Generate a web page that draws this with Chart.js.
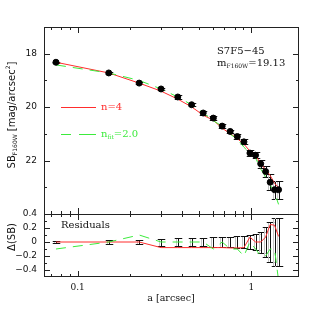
<!DOCTYPE html>
<html>
<head>
<meta charset="utf-8">
<script src="https://cdn.jsdelivr.net/npm/chart.js@4.4.1/dist/chart.umd.min.js"></script>
<style>html,body{margin:0;padding:0;background:#fff}</style>
</head>
<body>
<canvas id="myChart" width="316" height="316"></canvas>
<script>
// semi-major axis [arcsec]
const radius = [0.075,0.151,0.226,0.302,0.377,0.453,0.528,0.604,0.679,0.755,0.830,0.906,0.981,1.057,1.132,1.208,1.283,1.359,1.434];
// observed surface brightness
const sb = [18.32,18.72,19.10,19.32,19.62,19.91,20.22,20.41,20.71,20.91,21.10,21.30,21.72,21.80,22.12,22.41,22.81,23.09,23.09];
const sbErr = [0.015,0.03,0.035,0.05,0.06,0.06,0.06,0.07,0.07,0.07,0.09,0.09,0.10,0.12,0.15,0.21,0.29,0.34,0.34];
// models
const modelN4  = [18.32,18.72,19.10,19.40,19.70,19.99,20.30,20.49,20.79,20.99,21.18,21.38,21.65,21.80,22.12,22.34,22.56,22.85,23.01];
const modelFit = [18.42,18.72,19.00,19.32,19.62,19.91,20.22,20.51,20.71,21.01,21.20,21.50,21.72,21.90,22.32,22.61,22.91,23.19,23.64];
// residuals
const residN4  = [0,0,0,-0.08,-0.08,-0.08,-0.08,-0.08,-0.08,-0.085,-0.085,-0.08,0.07,0,0,0.07,0.25,0.24,0.08];
const residFit = [-0.1,0,0.1,0,0,0,0,-0.1,0,-0.1,-0.1,-0.2,0,-0.1,-0.2,-0.2,-0.1,-0.1,-0.55];
// tick labels
const xTicks = [0.1, 1];
const yTicks = [18, 20, 22];
const rTicks = [0.4, 0.2, 0, -0.2, -0.4];

const RED = 'rgb(255,45,45)';
const GREEN = 'rgb(60,235,60)';
const SERIF = 'DejaVu Serif';
const SANS = 'DejaVu Sans';

function pts(xs, ys){ return xs.map((x,i)=>({x:x, y:ys[i]})); }

// text with sub/superscripts: parts = [[text, 'n'|'sub'|'sup'], ...]
function setFont(c, p, size, fam){
  c.font = (p[1]==='n' ? size : Math.round(size*0.62)) + 'px "' + fam + '"';
}
function richWidth(c, parts, size, fam){
  let w = 0;
  parts.forEach(p=>{ setFont(c, p, size, fam); w += c.measureText(p[0]).width; });
  return w;
}
function drawRich(c, parts, x, y, size, fam){
  c.textBaseline = 'middle';
  c.textAlign = 'left';
  parts.forEach(p=>{
    let dy = 0;
    if (p[1]==='sub') dy = size*0.35;
    if (p[1]==='sup') dy = -size*0.35;
    setFont(c, p, size, fam);
    c.fillText(p[0], x, y+dy);
    x += c.measureText(p[0]).width;
  });
}

const decor = {
  id: 'decor',
  beforeDatasetsDraw(chart){
    const c = chart.ctx, xs = chart.scales.x, ys = chart.scales.y, yr = chart.scales.yr;
    c.save();
    radius.forEach((r,i)=>{
      const px = Math.round(xs.getPixelForValue(r));
      [[ys, sb[i]], [yr, 0]].forEach(([s, v])=>{
        const y1 = Math.round(s.getPixelForValue(v - sbErr[i]));
        const y2 = Math.round(s.getPixelForValue(v + sbErr[i]));
        const top = Math.min(y1,y2), h = Math.abs(y2-y1);
        c.fillStyle = '#c4c4c4';
        c.fillRect(px-2, top, 1, h);
        c.fillRect(px-4, y1, 9, 1);
        c.fillRect(px-4, y2, 9, 1);
        c.fillStyle = '#111';
        c.fillRect(px, top, 1, h);
        c.fillRect(px-3, y1, 7, 1);
        c.fillRect(px-3, y2, 7, 1);
      });
    });
    c.restore();
  },
  afterDraw(chart){
    const c = chart.ctx;
    const xs = chart.scales.x, ys = chart.scales.y, yr = chart.scales.yr;
    const L = Math.round(xs.left), R = Math.round(xs.right), T = Math.round(ys.top);
    const B = Math.round(yr.bottom), mid = Math.round(ys.bottom);
    c.save();
    c.fillStyle = '#222';
    // frame and divider
    c.fillRect(L, T, R-L, 1);
    c.fillRect(L, B-1, R-L, 1);
    c.fillRect(L, T, 1, B-T);
    c.fillRect(R-1, T, 1, B-T);
    c.fillRect(L, mid, R-L, 1);
    // x ticks
    const xv = [0.07,0.08,0.09,0.1,0.2,0.3,0.4,0.5,0.6,0.7,0.8,0.9,1];
    xv.forEach(v=>{
      const px = Math.round(xs.getPixelForValue(v));
      const len = (v===0.1||v===1) ? 6 : 3;
      c.fillRect(px, T, 1, len);
      c.fillRect(px, mid-len, 1, 2*len);
      c.fillRect(px, B-len, 1, len);
    });
    // main y ticks
    for (let v=18; v<=23; v++){
      const py = Math.round(ys.getPixelForValue(v));
      const len = (v%2===0) ? 6 : 3;
      c.fillRect(L, py, len, 1);
      c.fillRect(R-len, py, len, 1);
    }
    // residual y ticks
    for (let k=-4; k<=3; k++){
      const py = Math.round(yr.getPixelForValue(k/10));
      const len = (k%2===0) ? 6 : 3;
      c.fillRect(L, py, len, 1);
      c.fillRect(R-len, py, len, 1);
    }

    // legend
    c.fillStyle = RED;
    c.fillRect(61, 107, 35, 1);
    c.fillStyle = GREEN;
    c.fillRect(61, 134, 10, 1);
    c.fillRect(79, 134, 17, 1);
    c.fillStyle = RED;
    drawRich(c, [['n=4','n']], 101, 107, 10, SERIF);
    c.fillStyle = GREEN;
    drawRich(c, [['n','n'],['fit','sub'],['=2.0','n']], 101, 134, 10, SERIF);

    // labels
    c.fillStyle = '#111';
    drawRich(c, [['S7F5\u221245','n']], 217, 51, 10, SERIF);
    drawRich(c, [['m','n'],['F160W','sub'],['=19.13','n']], 217, 63, 10, SERIF);
    drawRich(c, [['Residuals','n']], 61, 225, 10, SERIF);

    c.textAlign = 'center';
    c.textBaseline = 'middle';
    c.font = '9.5px "' + SERIF + '"';
    c.fillText('a [arcsec]', 171, 299);

    // y titles
    const yt = [['SB','n'],['F160W','sub'],[' [mag/arcsec','n'],['2','sup'],[']','n']];
    c.save();
    c.translate(12, 115); c.rotate(-Math.PI/2);
    drawRich(c, yt, -richWidth(c, yt, 10, SANS)/2, 0, 10, SANS);
    c.restore();
    const rt = [['\u0394(SB)','n']];
    c.save();
    c.translate(12, 237); c.rotate(-Math.PI/2);
    drawRich(c, rt, -richWidth(c, rt, 10, SANS)/2, 0, 10, SANS);
    c.restore();
    c.restore();
  }
};

const yFont = {family: SANS, size: 9};

new Chart(document.getElementById('myChart'), {
  type: 'scatter',
  data: {
    datasets: [
      {data: pts(radius, sb), yAxisID: 'y', backgroundColor: '#000', borderColor: '#000', pointRadius: 3, pointHoverRadius: 3, order: 0},
      {data: pts(radius, modelN4), yAxisID: 'y', showLine: true, borderColor: RED, borderWidth: 1, pointRadius: 0, order: 2},
      {data: pts(radius, modelFit), yAxisID: 'y', showLine: true, borderColor: GREEN, borderWidth: 1, borderDash: [10,7], pointRadius: 0, order: 1},
      {data: pts(radius, residN4), yAxisID: 'yr', showLine: true, borderColor: RED, borderWidth: 1, pointRadius: 0, order: 2},
      {data: pts(radius, residFit), yAxisID: 'yr', showLine: true, borderColor: GREEN, borderWidth: 1, borderDash: [10,7], pointRadius: 0, order: 1}
    ]
  },
  options: {
    responsive: false,
    animation: false,
    devicePixelRatio: 1,
    layout: {padding: {left: 0, top: 27, right: 17, bottom: 0}},
    plugins: {legend: {display: false}, tooltip: {enabled: false}},
    scales: {
      x: {
        type: 'logarithmic', min: 0.064, max: 1.88, position: 'bottom',
        grid: {display: false, drawTicks: false}, border: {display: false},
        afterBuildTicks: s => { s.ticks = xTicks.map(v => ({value: v})); },
        afterFit: s => { s.height = 39; },
        ticks: {font: {family: SERIF, size: 9}, color: '#111', padding: 5, maxRotation: 0, autoSkip: false,
                callback: v => String(v)}
      },
      // left boxes are stacked in reverse order: residual axis first puts it at the bottom
      yr: {
        type: 'linear', min: -0.5, max: 0.4, position: 'left',
        stack: 'p', stackWeight: 63, offset: false,
        grid: {display: false, drawTicks: false}, border: {display: false},
        afterBuildTicks: s => { s.ticks = rTicks.map(v => ({value: v})); },
        afterFit: s => { s.width = 44; },
        ticks: {font: yFont, color: '#111', padding: 7, autoSkip: false,
                callback: v => v < 0 ? '\u2212' + Math.abs(v) : String(v)}
      },
      y: {
        type: 'linear', min: 17, max: 24, reverse: true, position: 'left',
        stack: 'p', stackWeight: 187, offset: false,
        grid: {display: false, drawTicks: false}, border: {display: false},
        afterBuildTicks: s => { s.ticks = yTicks.map(v => ({value: v})); },
        afterFit: s => { s.width = 44; },
        ticks: {font: yFont, color: '#111', padding: 7, autoSkip: false, callback: v => String(v)}
      }
    }
  },
  plugins: [decor]
});
</script>
</body>
</html>
